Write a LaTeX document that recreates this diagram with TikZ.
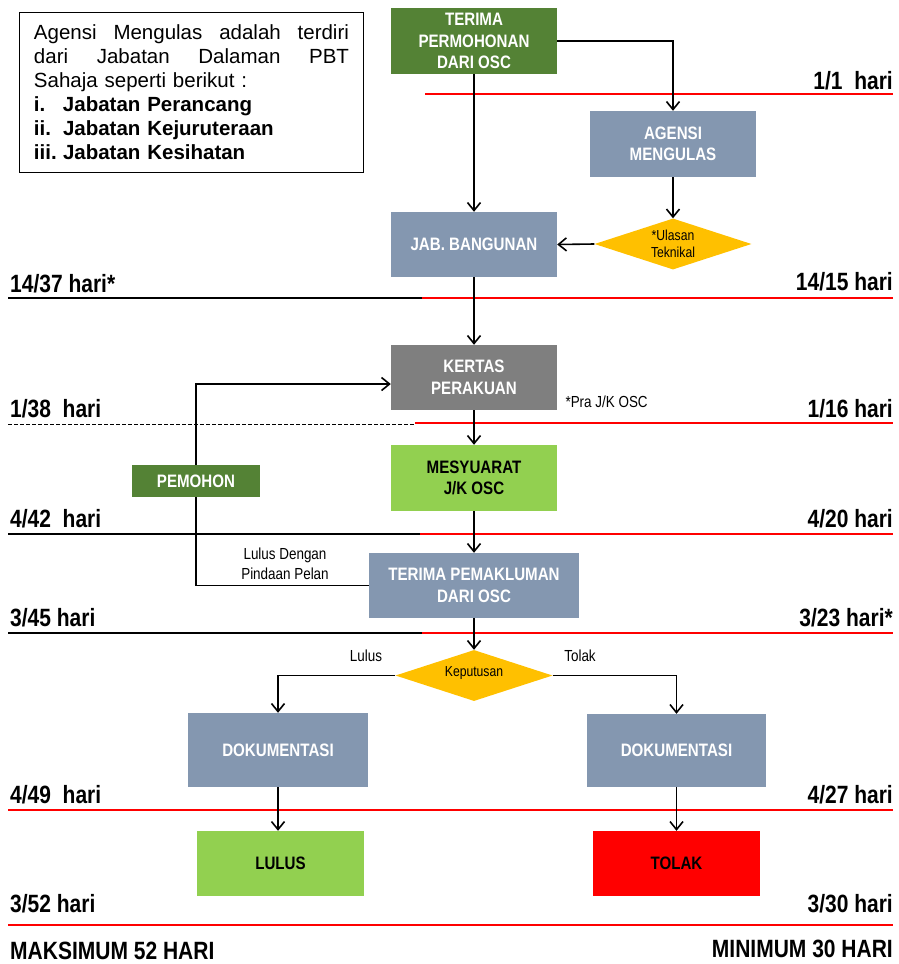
\documentclass[tikz,border=0pt]{standalone}
\usepackage{fontspec}
\setmainfont{Liberation Sans}
\newfontfamily\narrowfont[FakeStretch=0.84]{Liberation Sans}
\usetikzlibrary{arrows.meta,shapes.geometric,calc}
\usepackage{xcolor}

\definecolor{hijautua}{HTML}{548235}
\definecolor{hijaumuda}{HTML}{92D050}
\definecolor{kelabubiru}{HTML}{8497B0}
\definecolor{kelabu}{HTML}{7F7F7F}
\definecolor{kuning}{HTML}{FFC000}

\begin{document}
\begin{tikzpicture}[
    x=1pt, y=-1pt,
    box/.style={rectangle, minimum width=166pt, minimum height=65pt, align=center, inner sep=2pt,
        text=white, font=\narrowfont\bfseries\fontsize{18}{21.5}\selectfont},
    darkbox/.style={box, text=black},
    keputusanbox/.style={diamond, fill=kuning, minimum width=157pt, minimum height=52pt, aspect=3,
        inner sep=0pt, align=center, font=\narrowfont\fontsize{14.5}{17}\selectfont},
    small/.style={align=center, font=\narrowfont\fontsize{16}{20}\selectfont},
    hari/.style={font=\narrowfont\bfseries\fontsize{25}{28}\selectfont, inner sep=0pt},
    arrow/.style={-{Straight Barb[length=8pt,width=13pt]}, line width=1.6pt},
    plain/.style={line width=1.6pt},
    garismerah/.style={red, line width=1.4pt},
    garishitam/.style={black, line width=1.4pt}
]
    \useasboundingbox (0,0) rectangle (898,964);

    % nota agensi mengulas
    \node[draw, line width=1pt, anchor=north west, minimum width=344pt, minimum height=160pt,
          inner xsep=14.5pt, text width=315pt, align=left,
          font=\fontsize{20.5}{24}\selectfont] (nota) at (19,12)
        {\makebox[315pt][l]{Agensi\hfill Mengulas\hfill adalah\hfill terdiri}\\
         \makebox[315pt][l]{dari\hfill Jabatan\hfill Dalaman\hfill PBT}\\
         Sahaja seperti berikut :\\
         \textbf{\makebox[29pt][l]{i.}Jabatan Perancang}\\
         \textbf{\makebox[29pt][l]{ii.}Jabatan Kejuruteraan}\\
         \textbf{\makebox[29pt][l]{iii.}Jabatan Kesihatan}};

    % kotak proses
    \node[box, fill=hijautua, minimum height=66pt] (terima) at (474,41) {TERIMA\\PERMOHONAN\\DARI OSC};
    \node[box, fill=kelabubiru, minimum height=66pt] (agensi) at (673,144) {AGENSI\\MENGULAS};
    \node[keputusanbox, minimum height=51pt] (ulasan) at (673,244) {*Ulasan\\Teknikal};
    \node[box, fill=kelabubiru] (jab) at (474,244.5) {JAB. BANGUNAN};
    \node[box, fill=kelabu] (kertas) at (474,377.5) {KERTAS\\PERAKUAN};
    \node[darkbox, fill=hijaumuda, minimum height=66pt] (mesyuarat) at (474,478) {MESYUARAT\\J/K OSC};
    \node[box, fill=hijautua, minimum width=128pt, minimum height=32pt] (pemohon) at (196,481) {PEMOHON};
    \node[box, fill=kelabubiru, minimum width=210pt] (pemakluman) at (474,585.5) {TERIMA PEMAKLUMAN\\DARI OSC};
    \node[keputusanbox, minimum height=51pt] (keputusan) at (474,675.5) {\raisebox{7pt}{Keputusan}};
    \node[box, fill=kelabubiru, minimum width=180pt, minimum height=74pt] (dokkiri) at (278,750) {DOKUMENTASI};
    \node[box, fill=kelabubiru, minimum width=179pt, minimum height=73pt] (dokkanan) at (676.5,750.5) {DOKUMENTASI};
    \node[darkbox, fill=hijaumuda, minimum width=167pt] (lulus) at (280.5,863.5) {LULUS};
    \node[darkbox, fill=red, minimum width=167pt] (tolak) at (676.5,863.5) {TOLAK};

    % label kecil
    \node[small, anchor=west] (prajk) at (562,402) {*Pra J/K OSC};
    \node[small] (pindaan) at (285,564) {Lulus Dengan\\Pindaan Pelan};
    \node[small] (lbllulus) at (366,656) {Lulus};
    \node[small] (lbltolak) at (580,656) {Tolak};

    % garis masa
    \draw[garismerah] (425,94) -- (893,94);
    \draw[garishitam] (8,298) -- (422,298);
    \draw[garismerah] (422,298) -- (893,298);
    \draw[garishitam, dashed, line width=1pt, dash pattern=on 4pt off 2pt] (8,424) -- (415,424);
    \draw[garismerah] (415,423) -- (893,423);
    \draw[garishitam] (8,534) -- (420,534);
    \draw[garismerah] (420,534) -- (893,534);
    \draw[garishitam] (8,633) -- (422,633);
    \draw[garismerah] (422,633) -- (893,633);
    \draw[garismerah] (8,810) -- (893,810);
    \draw[garismerah] (8,925) -- (893,925);

    % hari
    \node[hari, anchor=base east] (h1) at (893,89) {1/1\ \ hari};
    \node[hari, anchor=base east] (h15) at (893,290) {14/15 hari};
    \node[hari, anchor=base west] (h37) at (10,292) {14/37 hari*};
    \node[hari, anchor=base west] (h38) at (10,417) {1/38\ \ hari};
    \node[hari, anchor=base east] (h16) at (893,417) {1/16 hari};
    \node[hari, anchor=base west] (h42) at (10,527) {4/42\ \ hari};
    \node[hari, anchor=base east] (h20) at (893,527) {4/20 hari};
    \node[hari, anchor=base west] (h45) at (10,626) {3/45 hari};
    \node[hari, anchor=base east] (h23) at (893,626) {3/23 hari*};
    \node[hari, anchor=base west] (h49) at (10,803) {4/49\ \ hari};
    \node[hari, anchor=base east] (h27) at (893,803) {4/27 hari};
    \node[hari, anchor=base west] (h52) at (10,912) {3/52 hari};
    \node[hari, anchor=base east] (h30) at (893,912) {3/30 hari};
    \node[hari, anchor=base west] (maks) at (10,959) {MAKSIMUM 52 HARI};
    \node[hari, anchor=base east] (min) at (893,957) {MINIMUM 30 HARI};

    % aliran
    \draw[arrow] (terima.east) -| (agensi.north);
    \draw[arrow] (terima.south) -- (jab.north);
    \draw[arrow] (agensi.south) -- (ulasan.north);
    \draw[arrow] (ulasan.west) -- (jab.east);
    \draw[arrow] (jab.south) -- (kertas.north);
    \draw[arrow] (pemohon.north) |- ([yshift=-6.5pt]kertas.west);
    \draw[arrow] (kertas.south) -- (mesyuarat.north);
    \draw[arrow] (mesyuarat.south) -- (pemakluman.north);
    \draw[plain] (pemakluman.west) -| (pemohon.south);
    \draw[arrow] (pemakluman.south) -- (keputusan.north);
    \draw[arrow] (keputusan.west) -| (dokkiri.north);
    \draw[arrow] (keputusan.east) -| (dokkanan.north);
    \draw[arrow] (dokkiri.south) -- (dokkiri.south |- lulus.north);
    \draw[arrow] (dokkanan.south) -- (tolak.north);
\end{tikzpicture}
\end{document}
